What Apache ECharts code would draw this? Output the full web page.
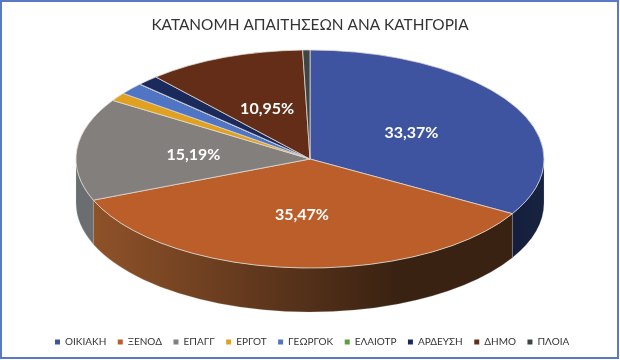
<!DOCTYPE html>
<html>
<head>
<meta charset="utf-8">
<style>
  html, body { margin: 0; padding: 0; background: #fff; }
  #chart { width: 620px; height: 360px; }
</style>
</head>
<body>
<div id="chart"></div>
<script src="https://cdn.jsdelivr.net/npm/echarts@6/dist/echarts.min.js"></script>
<script>
const titleText = 'ΚΑΤΑΝΟΜΗ ΑΠΑΙΤΗΣΕΩΝ ΑΝΑ ΚΑΤΗΓΟΡΙΑ';
const categories = ['ΟΙΚΙΑΚΗ', 'ΞΕΝΟΔ', 'ΕΠΑΓΓ', 'ΕΡΓΟΤ', 'ΓΕΩΡΓΟΚ', 'ΕΛΑΙΟΤΡ', 'ΑΡΔΕΥΣΗ', 'ΔΗΜΟ', 'ΠΛΟΙΑ'];
const values = [33.37, 35.47, 15.19, 1.25, 1.75, 0.02, 1.5, 10.95, 0.5];
const showLabel = [true, true, true, false, false, false, false, true, false];
const colors = ['#3f54a0', '#bb5e2a', '#827f7d', '#e0a020', '#5075c4', '#5f9e3f', '#1b2a5c', '#642d18', '#3f4444'];
// side wall colours, left to right
const wallColors = [
  ['#141f3e', '#17223f'],
  ['#8f5229', '#3a2212'],
  ['#6b6e70', '#6b6e70'],
  ['#8a5f14', '#8a5f14'],
  ['#324a7c', '#324a7c'],
  ['#3c6428', '#3c6428'],
  ['#101a38', '#101a38'],
  ['#3e1c0f', '#3e1c0f'],
  ['#272a2a', '#272a2a'],
];

const cx = 310;
const cy = 159;
const rx = 234;
const ry = 109;
const depth = 44;
const total = values.reduce((a, b) => a + b, 0);

// angles run clockwise from the top, in degrees
function ellipsePoint(deg, dy) {
  const rad = deg * Math.PI / 180;
  return [cx + rx * Math.sin(rad), cy + (dy || 0) - ry * Math.cos(rad)];
}

function arcTo(deg, large, sweep, dy) {
  const p = ellipsePoint(deg, dy);
  return `A${rx} ${ry} 0 ${large} ${sweep} ${p[0]} ${p[1]}`;
}

function topPath(a0, a1) {
  const s = ellipsePoint(a0);
  return `M${cx} ${cy}L${s[0]} ${s[1]}${arcTo(a1, a1 - a0 > 180 ? 1 : 0, 1)}Z`;
}

function wallPath(a0, a1) {
  const s = ellipsePoint(a0);
  const e = ellipsePoint(a1, depth);
  return `M${s[0]} ${s[1]}${arcTo(a1, 0, 1)}L${e[0]} ${e[1]}${arcTo(a0, 0, 0, depth)}Z`;
}

function renderSlice(params) {
  const i = params.seriesIndex;
  const before = values.slice(0, i).reduce((a, b) => a + b, 0);
  const a0 = before / total * 360;
  const a1 = (before + values[i]) / total * 360;
  const children = [];

  // only the front half of the rim is visible
  const w0 = Math.max(a0, 90);
  const w1 = Math.min(a1, 270);
  if (w1 > w0) {
    children.push({
      type: 'path',
      shape: { pathData: wallPath(w0, w1) },
      style: {
        fill: new echarts.graphic.LinearGradient(0, 0, 1, 0, [
          { offset: 0, color: wallColors[i][0] },
          { offset: 0.72, color: wallColors[i][1] },
          { offset: 1, color: wallColors[i][1] },
        ]),
        stroke: 'rgba(200,200,200,0.35)',
        lineWidth: 0.6,
      },
    });
  }

  children.push({
    type: 'path',
    shape: { pathData: topPath(a0, a1) },
    style: {
      fill: colors[i],
      stroke: 'rgba(225,220,215,0.75)',
      lineWidth: 1,
    },
  });

  if (showLabel[i]) {
    const rad = (a0 + a1) / 2 * Math.PI / 180;
    children.push({
      type: 'text',
      x: cx + 0.5 * rx * Math.sin(rad),
      y: cy - 0.5 * ry * Math.cos(rad) + 1,
      style: {
        text: `${values[i].toFixed(2).replace('.', ',')}%`,
        fill: '#fff',
        fontFamily: 'Lato',
        fontWeight: 'bold',
        fontSize: 16,
        align: 'center',
        verticalAlign: 'middle',
      },
    });
  }
  return { type: 'group', children };
}

const chart = echarts.init(document.getElementById('chart'));
chart.setOption({
  animation: false,
  backgroundColor: '#fff',
  title: {
    text: titleText,
    left: 'center',
    top: 13,
    textStyle: { fontFamily: 'Lato', fontWeight: 'normal', fontSize: 15.4, color: '#333' },
  },
  legend: {
    data: categories,
    left: 50,
    top: 332,
    icon: 'rect',
    itemWidth: 5,
    itemHeight: 5,
    itemGap: 11.5,
    selectedMode: false,
    textStyle: { fontFamily: 'Lato', fontSize: 10, color: '#333' },
  },
  graphic: [{
    type: 'rect',
    silent: true,
    shape: { x: 1, y: 1, width: 617, height: 357 },
    style: { fill: 'none', stroke: '#5b78c4', lineWidth: 2 },
  }],
  series: categories.map((name, i) => ({
    type: 'custom',
    name,
    coordinateSystem: 'none',
    silent: true,
    itemStyle: { color: colors[i] },
    renderItem: renderSlice,
    data: [values[i]],
  })),
});
</script>
</body>
</html>
